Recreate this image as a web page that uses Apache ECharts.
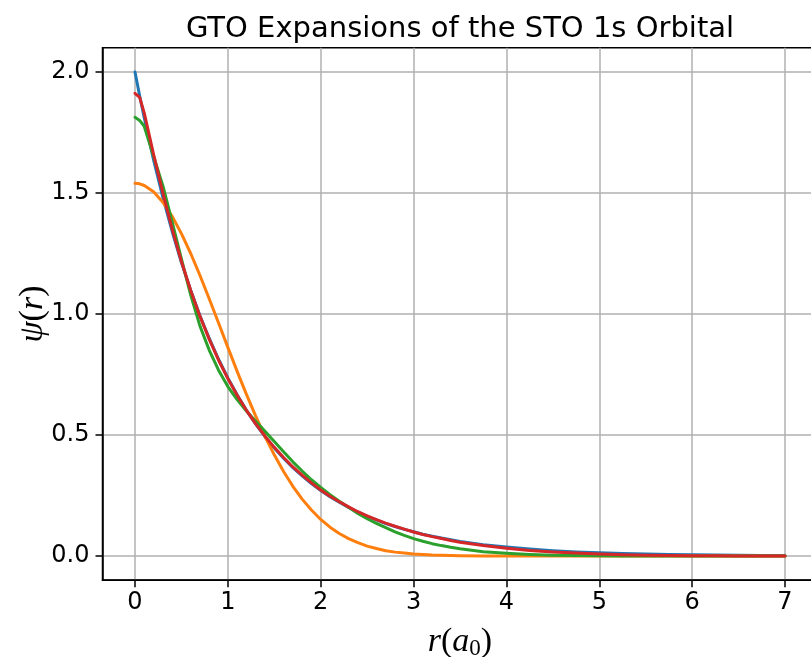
<!DOCTYPE html>
<html>
<head>
<meta charset="utf-8">
<script src="https://cdn.jsdelivr.net/npm/echarts@6/dist/echarts.min.js"></script>
<style>
  html, body { margin: 0; padding: 0; background: #ffffff; }
  #chart { width: 811px; height: 657px; }
</style>
</head>
<body>
<div id="chart"></div>
<script>
// Radial distance r (bohr) where each curve is sampled
const radius = [0, 0.05, 0.1, 0.2, 0.3, 0.4, 0.5, 0.6, 0.7, 0.8, 0.9,
  1.0, 1.1, 1.2, 1.3, 1.4, 1.5, 1.6, 1.7, 1.8, 1.9,
  2.0, 2.1, 2.2, 2.3, 2.4, 2.5, 2.6, 2.7, 2.8, 2.9,
  3.0, 3.1, 3.2, 3.3, 3.4, 3.5, 3.75,
  4.0, 4.25, 4.5, 4.75, 5.0, 5.25, 5.5, 5.75, 6.0, 6.25, 6.5, 6.75, 7.0];

// Slater-type 1s orbital
const sto = [2.000, 1.902, 1.810, 1.637, 1.482, 1.341, 1.213, 1.098, 0.993, 0.899, 0.813,
  0.736, 0.666, 0.602, 0.545, 0.493, 0.446, 0.404, 0.365, 0.331, 0.299,
  0.271, 0.245, 0.222, 0.201, 0.181, 0.164, 0.149, 0.134, 0.122, 0.110,
  0.100, 0.090, 0.082, 0.074, 0.067, 0.060, 0.047,
  0.037, 0.029, 0.022, 0.017, 0.013, 0.010, 0.008, 0.006, 0.005, 0.004, 0.003, 0.002, 0.002];

// One-Gaussian expansion
const sto1g = [1.540, 1.538, 1.531, 1.505, 1.462, 1.404, 1.332, 1.250, 1.159, 1.062, 0.963,
  0.862, 0.763, 0.668, 0.578, 0.494, 0.418, 0.349, 0.288, 0.235, 0.190,
  0.151, 0.119, 0.093, 0.072, 0.055, 0.041, 0.031, 0.022, 0.016, 0.012,
  0.008, 0.006, 0.004, 0.003, 0.002, 0.001, 0.000,
  0.000, 0.000, 0.000, 0.000, 0.000, 0.000, 0.000, 0.000, 0.000, 0.000, 0.000, 0.000, 0.000];

// Two-Gaussian expansion
const sto2g = [1.813, 1.800, 1.775, 1.652, 1.530, 1.381, 1.228, 1.078, 0.950, 0.850, 0.768,
  0.700, 0.646, 0.599, 0.557, 0.515, 0.473, 0.431, 0.389, 0.351, 0.315,
  0.283, 0.253, 0.226, 0.201, 0.176, 0.154, 0.135, 0.117, 0.100, 0.085,
  0.072, 0.061, 0.051, 0.043, 0.036, 0.030, 0.018,
  0.011, 0.006, 0.003, 0.002, 0.001, 0.000, 0.000, 0.000, 0.000, 0.000, 0.000, 0.000, 0.000];

// Three-Gaussian expansion
const sto3g = [1.912, 1.895, 1.830, 1.660, 1.500, 1.352, 1.217, 1.097, 0.990, 0.895, 0.809,
  0.733, 0.664, 0.602, 0.546, 0.495, 0.449, 0.407, 0.368, 0.334, 0.302,
  0.273, 0.247, 0.224, 0.203, 0.183, 0.166, 0.150, 0.136, 0.123, 0.111,
  0.099, 0.089, 0.080, 0.072, 0.064, 0.057, 0.043,
  0.032, 0.023, 0.017, 0.012, 0.008, 0.005, 0.003, 0.002, 0.001, 0.001, 0.000, 0.000, 0.000];

const xTicks = [0, 1, 2, 3, 4, 5, 6, 7];
const yTicks = [0, 0.5, 1.0, 1.5, 2.0];

const seriesNames = ['STO', 'STO-1G', 'STO-2G', 'STO-3G'];
const seriesColors = ['#1f77b4', '#ff7f0e', '#2ca02c', '#d62728'];
const seriesValues = [sto, sto1g, sto2g, sto3g];

const pairs = (ys) => radius.map((r, i) => [r, ys[i]]);

const tickFont = { fontFamily: 'DejaVu Sans', fontSize: 24, color: '#000' };
const mathItalic = { fontFamily: 'Liberation Serif', fontStyle: 'italic', fontSize: 34, color: '#000' };
const mathUpright = { fontFamily: 'Liberation Serif', fontSize: 34, color: '#000' };

const chart = echarts.init(document.getElementById('chart'), null, { renderer: 'canvas' });

chart.setOption({
  backgroundColor: '#ffffff',
  animation: false,
  graphic: [{
    type: 'text',
    x: 460,
    y: 15,
    style: {
      text: 'GTO Expansions of the STO 1s Orbital',
      font: '29px "DejaVu Sans"',
      fill: '#000',
      align: 'center',
      textAlign: 'center',
      verticalAlign: 'top',
      textVerticalAlign: 'top'
    }
  }],
  grid: {
    left: 102.5,
    top: 47.8,
    width: 715,
    height: 532.4,
    outerBoundsMode: 'none',
    containLabel: false,
    show: true,
    borderColor: '#000',
    borderWidth: 1.5,
    backgroundColor: 'transparent'
  },
  xAxis: {
    type: 'value',
    min: -0.35,
    max: 7.35,
    name: '{i|r}{u|(}{i|a}{s|0}{u|)}',
    nameLocation: 'middle',
    nameGap: 43,
    nameMoveOverlap: false,
    nameTextStyle: {
      rich: {
        i: mathItalic,
        u: mathUpright,
        s: { fontFamily: 'Liberation Serif', fontSize: 23, color: '#000', padding: [14, 0, 0, 0] }
      }
    },
    axisLine: { show: true, onZero: false, lineStyle: { color: '#000', width: 1.5 } },
    axisTick: { show: true, length: 7, customValues: xTicks, lineStyle: { color: '#000', width: 1.5 } },
    axisLabel: { show: true, margin: 11, customValues: xTicks, formatter: (v) => String(v), ...tickFont },
    splitLine: { show: true, lineStyle: { color: '#b0b0b0', width: 1.5 } }
  },
  yAxis: {
    type: 'value',
    min: -0.1,
    max: 2.1,
    name: '{g|ψ}{u|(}{i|r}{u|)}',
    nameLocation: 'middle',
    nameRotate: 90,
    nameGap: 52,
    nameMoveOverlap: false,
    nameTextStyle: {
      rich: { g: mathItalic, i: mathItalic, u: mathUpright }
    },
    axisLine: { show: true, onZero: false, lineStyle: { color: '#000', width: 1.5 } },
    axisTick: { show: true, length: 7, customValues: yTicks, lineStyle: { color: '#000', width: 1.5 } },
    axisLabel: { show: true, margin: 13, customValues: yTicks, formatter: (v) => v.toFixed(1), ...tickFont },
    splitLine: { show: true, lineStyle: { color: '#b0b0b0', width: 1.5 } }
  },
  series: seriesValues.map((ys, k) => ({
    name: seriesNames[k],
    type: 'line',
    data: pairs(ys),
    showSymbol: false,
    smooth: false,
    lineStyle: { color: seriesColors[k], width: 3, join: 'round', cap: 'round' },
    itemStyle: { color: seriesColors[k] },
    z: 2 + k
  }))
});
</script>
</body>
</html>
